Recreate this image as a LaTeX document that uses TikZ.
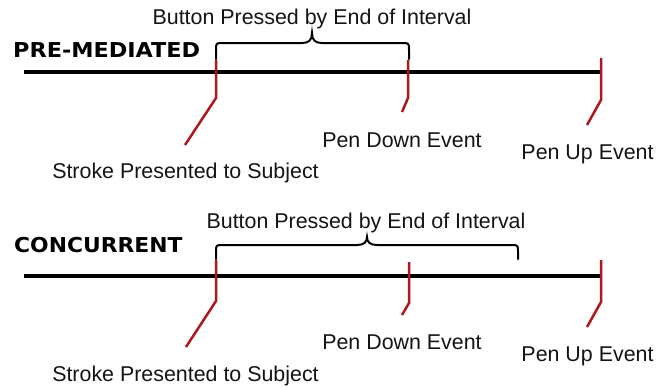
\documentclass[tikz,border=0pt]{standalone}
\usepackage{fontspec}
\setmainfont{Liberation Sans}
\newfontfamily\labelfont{DejaVu Sans}
\definecolor{tickred}{RGB}{172,24,30}
\definecolor{inkblack}{RGB}{20,20,20}
\begin{document}
\begin{tikzpicture}[x=1pt,y=-1pt,
  txt/.style={font=\fontsize{21.4}{24}\selectfont, inner sep=0pt, anchor=base, text=inkblack},
  ttl/.style={font=\labelfont\bfseries\fontsize{20.5}{24}\selectfont, inner sep=0pt, anchor=base west, text=black},
  timeline/.style={line width=3.6pt, black},
  redtick/.style={line width=2.5pt, tickred, line join=miter},
  curlybrace/.style={line width=2pt, black, line cap=round}
]
\useasboundingbox (0,0) rectangle (670,389);

% ---------------- PRE-MEDIATED ----------------
\node[ttl] (pm) at (13,57.3) {\scalebox{1.09}[1]{PRE-MEDIATED}};
\node[txt] (pmbtn) at (312,24) {Button Pressed by End of Interval};
\coordinate (pmL) at (24,72);
\coordinate (pmR) at (601,72);
\draw[timeline] (pmL) -- (pmR);

\draw[curlybrace] (216,59) -- (216,50) .. controls (216,43) .. (223,43) -- (302,43)
  .. controls (309,43) and (312,40) .. (312,33)
  .. controls (312,40) and (315,43) .. (322,43) -- (402,43)
  .. controls (409,43) .. (409,50) -- (409,59);

\coordinate (pm1t) at (216,60);  \coordinate (pm1b) at (216,98);  \coordinate (pm1e) at (185,145);
\coordinate (pm2t) at (408,60);  \coordinate (pm2b) at (408,98);  \coordinate (pm2e) at (402,112);
\coordinate (pm3t) at (601,58);  \coordinate (pm3b) at (601,100); \coordinate (pm3e) at (587,125);
\draw[redtick] (pm1t) -- (pm1b) -- (pm1e);
\draw[redtick] (pm2t) -- (pm2b) -- (pm2e);
\draw[redtick] (pm3t) -- (pm3b) -- (pm3e);

\node[txt] (pmstroke) at (185.5,178.5) {Stroke Presented to Subject};
\node[txt] (pmdown) at (402,147) {Pen Down Event};
\node[txt] (pmup) at (587.5,159.5) {Pen Up Event};

% ---------------- CONCURRENT ----------------
\node[ttl] (cc) at (14,252) {\scalebox{1.065}[1]{CONCURRENT}};
\node[txt] (ccbtn) at (366,228.5) {Button Pressed by End of Interval};
\coordinate (ccL) at (24,276);
\coordinate (ccR) at (601,276);
\draw[timeline] (ccL) -- (ccR);

\draw[curlybrace] (216,259) -- (216,252) .. controls (216,245) .. (223,245) -- (357,245)
  .. controls (364,245) and (367,242) .. (367,237)
  .. controls (367,242) and (370,245) .. (377,245) -- (511,245)
  .. controls (518,245) .. (518,252) -- (518,259);

\coordinate (cc1t) at (216,260);  \coordinate (cc1b) at (216,301);  \coordinate (cc1e) at (186,347);
\coordinate (cc2t) at (409,262);  \coordinate (cc2b) at (409,303);  \coordinate (cc2e) at (402,315);
\coordinate (cc3t) at (601,260);  \coordinate (cc3b) at (601,302);  \coordinate (cc3e) at (587,327);
\draw[redtick] (cc1t) -- (cc1b) -- (cc1e);
\draw[redtick] (cc2t) -- (cc2b) -- (cc2e);
\draw[redtick] (cc3t) -- (cc3b) -- (cc3e);

\node[txt] (ccstroke) at (185.5,381.7) {Stroke Presented to Subject};
\node[txt] (ccdown) at (402,349.3) {Pen Down Event};
\node[txt] (ccup) at (587.5,361.7) {Pen Up Event};
\end{tikzpicture}
\end{document}
